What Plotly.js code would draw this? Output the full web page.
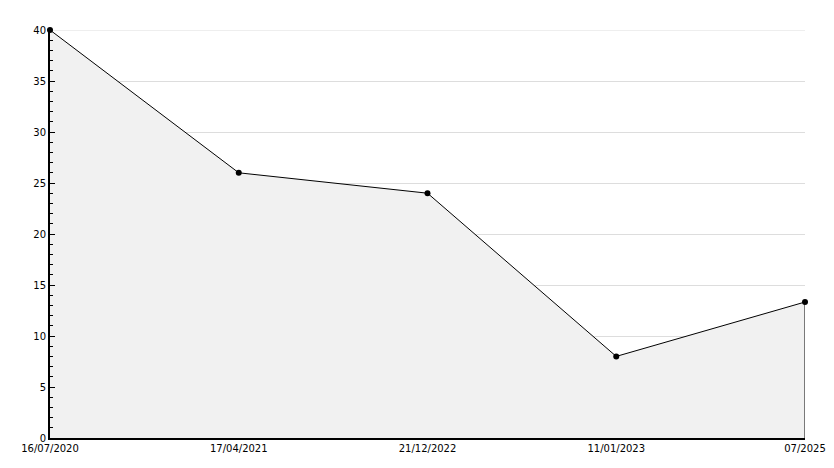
<!DOCTYPE html>
<html><head><meta charset="utf-8">
<script src="https://cdn.plot.ly/plotly-3.0.1.min.js"></script>
<style>html,body{margin:0;padding:0;background:#fff}#c{width:834px;height:468px}</style>
</head><body><div id="c"></div>
<script>
const categories = ["16/07/2020", "17/04/2021", "21/12/2022", "11/01/2023", "07/2025"];
const values = [40, 26, 24, 8, 13.33];
const yTicks = [0, 5, 10, 15, 20, 25, 30, 35, 40];

const lastCat = categories[categories.length - 1];
const lastVal = values[values.length - 1];
const yMax = yTicks[yTicks.length - 1];

const traces = [
  {
    x: categories, y: values, type: 'scatter', mode: 'lines+markers',
    fill: 'tozeroy', fillcolor: '#f1f1f1',
    line: {color: '#000', width: 1},
    marker: {color: '#000', size: 6, symbol: 'circle'},
    hoverinfo: 'skip', cliponaxis: false
  },
  {
    x: [lastCat, lastCat], y: [0, lastVal], type: 'scatter', mode: 'lines',
    line: {color: '#000', width: 1}, hoverinfo: 'skip', cliponaxis: false
  }
];

const layout = {
  width: 834, height: 468,
  margin: {l: 50, r: 29, t: 30, b: 30},
  paper_bgcolor: '#fff', plot_bgcolor: '#fff',
  showlegend: false,
  font: {family: 'DejaVu Sans', size: 10, color: '#000'},
  shapes: [{type: 'line', xref: 'paper', x0: 0, x1: 1, yref: 'y', y0: yMax, y1: yMax,
            line: {color: '#dddddd', width: 1}, layer: 'below'}],
  xaxis: {
    type: 'category', categoryorder: 'array', categoryarray: categories,
    range: [0, categories.length - 1],
    showgrid: false, zeroline: false,
    showline: true, linecolor: '#000', linewidth: 2,
    ticks: '', tickfont: {size: 10, family: 'DejaVu Sans', color: '#000'}
  },
  yaxis: {
    range: [0, yMax], tickvals: yTicks, ticktext: yTicks.map(String),
    showgrid: true, gridcolor: '#dddddd', gridwidth: 1,
    zeroline: false, showline: true, linecolor: '#000', linewidth: 2,
    ticks: 'inside', ticklen: 5, tickcolor: '#000', tickwidth: 1,
    minor: {dtick: 1, ticks: 'inside', ticklen: 3, tickcolor: '#000', showgrid: false},
    tickfont: {size: 10, family: 'DejaVu Sans', color: '#000'}
  }
};

Plotly.newPlot('c', traces, layout, {staticPlot: true});
</script></body></html>
